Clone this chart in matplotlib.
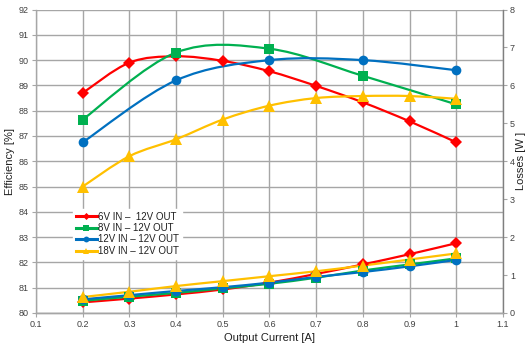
import matplotlib
matplotlib.use("Agg")
import matplotlib.pyplot as plt
import numpy as np
from matplotlib.path import Path
from matplotlib.patches import PathPatch
from matplotlib.lines import Line2D

plt.rcParams["font.family"] = ["Liberation Sans", "DejaVu Sans"]

# output current [A]
current_all = [0.2, 0.3, 0.4, 0.5, 0.6, 0.7, 0.8, 0.9, 1.0]
current_even = [0.2, 0.4, 0.6, 0.8, 1.0]

# efficiency [%]
eff_6v = [88.7, 89.9, 90.15, 89.97, 89.56, 88.98, 88.33, 87.58, 86.75]
eff_8v = [87.65, 90.3, 90.45, 89.38, 88.25]
eff_12v = [86.75, 89.2, 90.0, 90.0, 89.6]
eff_18v = [85.0, 86.2, 86.87, 87.65, 88.2, 88.5, 88.58, 88.58, 88.47]

# losses [W]
loss_6v = [0.28, 0.38, 0.49, 0.62, 0.80, 1.03, 1.28, 1.55, 1.84]
loss_8v = [0.32, 0.43, 0.53, 0.65, 0.77, 0.93, 1.12, 1.28, 1.44]
loss_12v = [0.36, 0.47, 0.58, 0.68, 0.80, 0.95, 1.08, 1.23, 1.40]
loss_18v = [0.42, 0.56, 0.71, 0.84, 0.97, 1.10, 1.25, 1.41, 1.57]

labels = ["6V IN \u2013  12V OUT", "8V IN \u2013 12V OUT",
          "12V IN \u2013 12V OUT", "18V IN \u2013 12V OUT"]
colors = ["#FF0000", "#00B050", "#0070C0", "#FFC000"]
markers = ["D", "s", "o", "^"]
msizes = [6, 7, 7, 8]

GRID = "#A6A6A6"
TXT = "#404040"


def smooth_path(xs, ys):
    # excel-style smoothed line: cubic bezier through every point
    pts = np.column_stack([xs, ys]).astype(float)
    n = len(pts)
    verts = [pts[0]]
    codes = [Path.MOVETO]
    for i in range(n - 1):
        p0 = pts[i - 1] if i > 0 else pts[i]
        p3 = pts[i + 2] if i + 2 < n else pts[i + 1]
        c1 = pts[i] + (pts[i + 1] - p0) / 6.0
        c2 = pts[i + 1] - (p3 - pts[i]) / 6.0
        verts += [c1, c2, pts[i + 1]]
        codes += [Path.CURVE4] * 3
    return Path(verts, codes)


def draw_series(ax, xs, ys, color, marker, ms):
    ax.add_patch(PathPatch(smooth_path(xs, ys), fill=False, edgecolor=color,
                           lw=1.6, capstyle="round", joinstyle="round"))
    ax.plot(xs, ys, linestyle="none", marker=marker, ms=ms, color=color,
            markeredgewidth=0)


fig = plt.figure(figsize=(5.27, 3.47), dpi=100)
ax = fig.add_axes([0.0683, 0.098, 0.886, 0.8745])
ax2 = ax.twinx()

eff = [(current_all, eff_6v), (current_even, eff_8v),
       (current_even, eff_12v), (current_all, eff_18v)]
for (xs, ys), c, m, s in zip(eff, colors, markers, msizes):
    draw_series(ax, xs, ys, c, m, s)

losses = [loss_6v, loss_8v, loss_12v, loss_18v]
for ys, c, m, s in zip(losses, colors, markers, msizes):
    draw_series(ax2, current_all, ys, c, m, s)

ax.set_xlim(0.1, 1.1)
ax.set_ylim(80, 92)
ax2.set_ylim(0, 8)

xt = np.round(np.arange(0.1, 1.15, 0.1), 1)
ax.set_xticks(xt)
ax.set_xticklabels(["1" if v == 1.0 else f"{v:g}" for v in xt])
ax.set_yticks(range(80, 93))
ax2.set_yticks(range(0, 9))

ax.grid(True, color=GRID, lw=1.0)
ax.set_axisbelow(True)

for a in (ax, ax2):
    for side in a.spines:
        a.spines[side].set_color(GRID)
        a.spines[side].set_linewidth(1.0)
    a.spines["top"].set_visible(False)
    a.tick_params(labelsize=6.5, colors=TXT, length=3, width=0.8,
                  color=GRID, pad=2)
ax2.spines["left"].set_visible(False)
ax.spines["right"].set_visible(False)
ax2.spines["right"].set_color("#7F7F7F")

ax.set_xlabel("Output Current [A]", fontsize=8, color="#202020", labelpad=3)
ax.set_ylabel("Efficiency [%]", fontsize=8, color="#202020", labelpad=3)
ax2.set_ylabel("Losses [W ]", fontsize=8, color="#202020", labelpad=1)

handles = [Line2D([], [], color=c, marker=m, ms=s * 0.6, lw=2.2,
                  markeredgewidth=0)
           for c, m, s in zip(colors, markers, msizes)]
leg = ax2.legend(handles, labels, loc="upper left",
                 bbox_to_anchor=(0.068, 0.36), fontsize=7,
                 frameon=True, fancybox=False, framealpha=1,
                 edgecolor="white", handlelength=2.2, handletextpad=0.1,
                 labelspacing=0.15, borderpad=0.3)
for t in leg.get_texts():
    t.set_color("#202020")

fig.savefig("out.png", dpi=100)
